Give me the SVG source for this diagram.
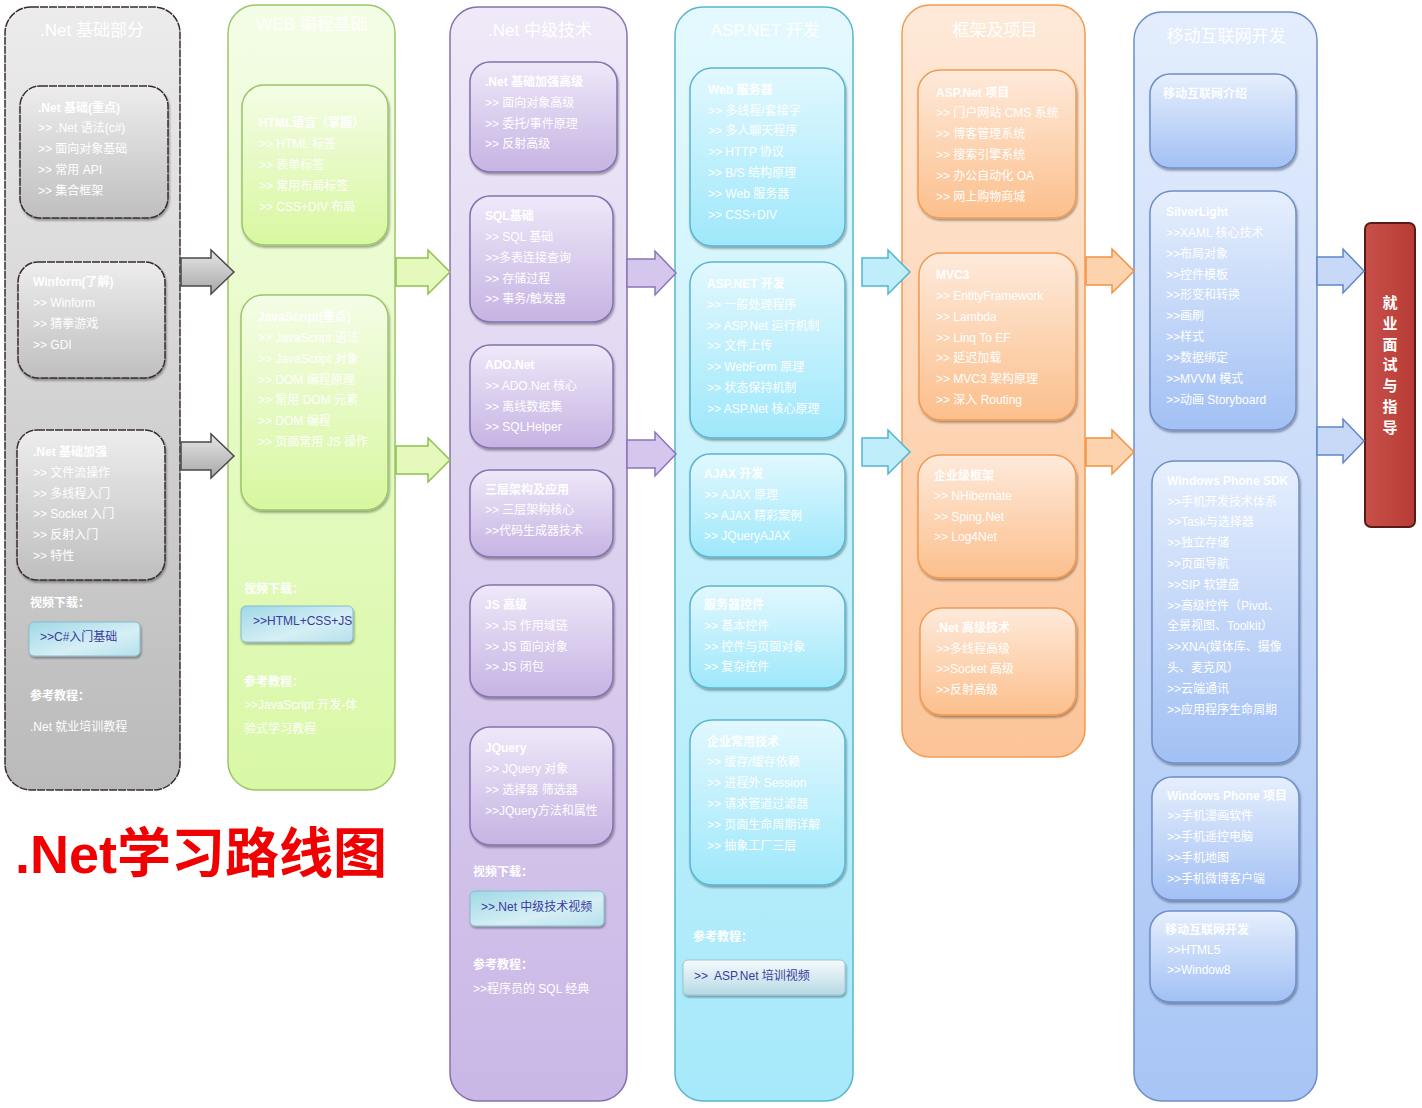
<svg xmlns="http://www.w3.org/2000/svg" width="1422" height="1108" viewBox="0 0 1422 1108">
<defs>
<linearGradient id="gGrayC" x1="0" y1="0" x2="0" y2="1"><stop offset="0" stop-color="#ececec"/><stop offset="1" stop-color="#bababa"/></linearGradient>
<linearGradient id="gGrayB" x1="0" y1="0" x2="0" y2="1"><stop offset="0" stop-color="#ededed"/><stop offset="1" stop-color="#bfbfbf"/></linearGradient>
<linearGradient id="gGreenC" x1="0" y1="0" x2="0" y2="1"><stop offset="0" stop-color="#f4fde6"/><stop offset="1" stop-color="#d9f8a6"/></linearGradient>
<linearGradient id="gGreenB" x1="0" y1="0" x2="0" y2="1"><stop offset="0" stop-color="#f4fde6"/><stop offset="1" stop-color="#d8f7a0"/></linearGradient>
<linearGradient id="gPurC" x1="0" y1="0" x2="0" y2="1"><stop offset="0" stop-color="#efe9f8"/><stop offset="1" stop-color="#c9b7e6"/></linearGradient>
<linearGradient id="gPurB" x1="0" y1="0" x2="0" y2="1"><stop offset="0" stop-color="#efe8f9"/><stop offset="1" stop-color="#c6b3e3"/></linearGradient>
<linearGradient id="gCyaC" x1="0" y1="0" x2="0" y2="1"><stop offset="0" stop-color="#e4f9fe"/><stop offset="1" stop-color="#a6e9fa"/></linearGradient>
<linearGradient id="gCyaB" x1="0" y1="0" x2="0" y2="1"><stop offset="0" stop-color="#e2f8fe"/><stop offset="1" stop-color="#9ee8fb"/></linearGradient>
<linearGradient id="gOraC" x1="0" y1="0" x2="0" y2="1"><stop offset="0" stop-color="#fee9d8"/><stop offset="1" stop-color="#fcc498"/></linearGradient>
<linearGradient id="gOraB" x1="0" y1="0" x2="0" y2="1"><stop offset="0" stop-color="#feeadb"/><stop offset="1" stop-color="#fcbf8c"/></linearGradient>
<linearGradient id="gBluC" x1="0" y1="0" x2="0" y2="1"><stop offset="0" stop-color="#e3edfd"/><stop offset="1" stop-color="#a8c5f5"/></linearGradient>
<linearGradient id="gBluB" x1="0" y1="0" x2="0" y2="1"><stop offset="0" stop-color="#e6effd"/><stop offset="1" stop-color="#a2c0f4"/></linearGradient>
<linearGradient id="gBtn" x1="0" y1="0" x2="1" y2="1"><stop offset="0" stop-color="#9fd8e6"/><stop offset="0.6" stop-color="#d6eff5"/><stop offset="1" stop-color="#b5e1ec"/></linearGradient>
<linearGradient id="gBtn2" x1="0" y1="0" x2="0" y2="1"><stop offset="0" stop-color="#f6fbfd"/><stop offset="1" stop-color="#b6d9e4"/></linearGradient>
<linearGradient id="gRed" x1="0" y1="0" x2="1" y2="0"><stop offset="0" stop-color="#c8504a"/><stop offset="1" stop-color="#b83c36"/></linearGradient>
<linearGradient id="gArrGray" x1="0" y1="0" x2="0" y2="1"><stop offset="0" stop-color="#e6e6e6"/><stop offset="1" stop-color="#a8a8a8"/></linearGradient>
<filter id="sh" x="-10%" y="-10%" width="120%" height="120%"><feDropShadow dx="1" dy="2" stdDeviation="1" flood-color="#000" flood-opacity="0.35"/></filter>
</defs>
<style>
text{font-family:"Liberation Sans","Noto Sans CJK SC",sans-serif;font-size:12px;fill:#fff}
.h{font-weight:bold}
.ct{font-size:17px;text-anchor:middle}
.bt{fill:#3b3b9c}
.box{filter:url(#sh)}
.gray .col{fill:url(#gGrayC);stroke:#3a2c2c;stroke-width:1.5;stroke-dasharray:8 1}
.gray .box{fill:url(#gGrayB);stroke:#3a2c2c;stroke-width:1.5;stroke-dasharray:8 1}
.green .col{fill:url(#gGreenC);stroke:#9cc66a;stroke-width:1.5}
.green .box{fill:url(#gGreenB);stroke:#9cc66a;stroke-width:1.5}
.pur .col{fill:url(#gPurC);stroke:#8572ad;stroke-width:1.5}
.pur .box{fill:url(#gPurB);stroke:#8572ad;stroke-width:1.5}
.cya .col{fill:url(#gCyaC);stroke:#5ab5cf;stroke-width:1.5}
.cya .box{fill:url(#gCyaB);stroke:#5ab5cf;stroke-width:1.5}
.ora .col{fill:url(#gOraC);stroke:#f39a50;stroke-width:1.5}
.ora .box{fill:url(#gOraB);stroke:#f39a50;stroke-width:1.5}
.blu .col{fill:url(#gBluC);stroke:#6e8ec8;stroke-width:1.5}
.blu .box{fill:url(#gBluB);stroke:#6e8ec8;stroke-width:1.5}
.btn{fill:url(#gBtn);stroke:#86bccb;stroke-width:1;filter:url(#sh)}
.btn2{fill:url(#gBtn2);stroke:#9cc4d0;stroke-width:1;filter:url(#sh)}
.arr{stroke-width:1.5;stroke-linejoin:miter}
</style>

<!-- Column 1 -->
<g id="col-net-basic" class="gray">
<rect class="col" x="5" y="7" width="175" height="783" rx="26"/>
<text class="ct" x="92" y="36">.Net 基础部分</text>
<g id="n-net-basic-key">
<rect class="box" x="20" y="86" width="148" height="132" rx="20"/>
<text class="h" x="38" y="112">.Net 基础(重点)</text>
<text x="38" y="132">&gt;&gt; .Net 语法(c#)</text>
<text x="38" y="153">&gt;&gt; 面向对象基础</text>
<text x="38" y="174">&gt;&gt; 常用 API</text>
<text x="38" y="195">&gt;&gt; 集合框架</text>
</g>
<g id="n-winform">
<rect class="box" x="18" y="262" width="147" height="116" rx="20"/>
<text class="h" x="33" y="286">Winform(了解)</text>
<text x="33" y="307">&gt;&gt; Winform</text>
<text x="33" y="328">&gt;&gt; 猜拳游戏</text>
<text x="33" y="349">&gt;&gt; GDI</text>
</g>
<g id="n-net-plus">
<rect class="box" x="17" y="430" width="148" height="150" rx="20"/>
<text class="h" x="33" y="456">.Net 基础加强</text>
<text x="33" y="477">&gt;&gt; 文件流操作</text>
<text x="33" y="498">&gt;&gt; 多线程入门</text>
<text x="33" y="518">&gt;&gt; Socket 入门</text>
<text x="33" y="539">&gt;&gt; 反射入门</text>
<text x="33" y="560">&gt;&gt; 特性</text>
</g>
<text class="h" x="30" y="607">视频下载：</text>
<g id="btn-csharp">
<rect class="btn" x="29" y="622" width="111" height="34" rx="5"/>
<text class="bt" x="40" y="641">&gt;&gt;C#入门基础</text>
</g>
<text class="h" x="30" y="700">参考教程：</text>
<text x="30" y="731">.Net 就业培训教程</text>
</g>

<!-- Column 2 -->
<g id="col-web" class="green">
<rect class="col" x="228" y="5" width="167" height="785" rx="28"/>
<text class="ct" x="312" y="30">WEB 编程基础</text>
<g id="n-html">
<rect class="box" x="242" y="85" width="146" height="160" rx="22"/>
<text class="h" x="259" y="127">HTML语言（掌握）</text>
<text x="259" y="148">&gt;&gt; HTML 标签</text>
<text x="259" y="169">&gt;&gt; 表单标签</text>
<text x="259" y="190">&gt;&gt; 常用布局标签</text>
<text x="259" y="211">&gt;&gt; CSS+DIV 布局</text>
</g>
<g id="n-js">
<rect class="box" x="241" y="295" width="147" height="215" rx="22"/>
<text class="h" x="258" y="321">JavaScript(重点)</text>
<text x="258" y="342">&gt;&gt; JavaScript 语法</text>
<text x="258" y="363">&gt;&gt; JavaScript 对象</text>
<text x="258" y="384">&gt;&gt; DOM 编程原理</text>
<text x="258" y="404">&gt;&gt; 常用 DOM 元素</text>
<text x="258" y="425">&gt;&gt; DOM 编程</text>
<text x="258" y="446">&gt;&gt; 页面常用 JS 操作</text>
</g>
<text class="h" x="244" y="593">视频下载：</text>
<g id="btn-html">
<rect class="btn" x="241" y="606" width="112" height="36" rx="5"/>
<text class="bt" x="253" y="625">&gt;&gt;HTML+CSS+JS</text>
</g>
<text class="h" x="244" y="686">参考教程：</text>
<text x="244" y="709">&gt;&gt;JavaScript 开发-体</text>
<text x="244" y="733">验式学习教程</text>
</g>

<!-- Column 3 -->
<g id="col-net-mid" class="pur">
<rect class="col" x="450" y="7" width="177" height="1094" rx="28"/>
<text class="ct" x="540" y="36">.Net 中级技术</text>
<g id="n-net-adv">
<rect class="box" x="470" y="62" width="147" height="110" rx="20"/>
<text class="h" x="485" y="86">.Net 基础加强高级</text>
<text x="485" y="107">&gt;&gt; 面向对象高级</text>
<text x="485" y="128">&gt;&gt; 委托/事件原理</text>
<text x="485" y="148">&gt;&gt; 反射高级</text>
</g>
<g id="n-sql">
<rect class="box" x="470" y="196" width="143" height="126" rx="20"/>
<text class="h" x="485" y="220">SQL基础</text>
<text x="485" y="241">&gt;&gt; SQL 基础</text>
<text x="485" y="262">&gt;&gt;多表连接查询</text>
<text x="485" y="283">&gt;&gt; 存储过程</text>
<text x="485" y="303">&gt;&gt; 事务/触发器</text>
</g>
<g id="n-ado">
<rect class="box" x="470" y="345" width="143" height="103" rx="20"/>
<text class="h" x="485" y="369">ADO.Net</text>
<text x="485" y="390">&gt;&gt; ADO.Net 核心</text>
<text x="485" y="411">&gt;&gt; 离线数据集</text>
<text x="485" y="431">&gt;&gt; SQLHelper</text>
</g>
<g id="n-3tier">
<rect class="box" x="470" y="470" width="143" height="87" rx="20"/>
<text class="h" x="485" y="494">三层架构及应用</text>
<text x="485" y="514">&gt;&gt; 三层架构核心</text>
<text x="485" y="535">&gt;&gt;代码生成器技术</text>
</g>
<g id="n-js-adv">
<rect class="box" x="470" y="585" width="143" height="112" rx="20"/>
<text class="h" x="485" y="609">JS 高级</text>
<text x="485" y="630">&gt;&gt; JS 作用域链</text>
<text x="485" y="651">&gt;&gt; JS 面向对象</text>
<text x="485" y="671">&gt;&gt; JS 闭包</text>
</g>
<g id="n-jquery">
<rect class="box" x="470" y="727" width="143" height="118" rx="20"/>
<text class="h" x="485" y="752">JQuery</text>
<text x="485" y="773">&gt;&gt; JQuery 对象</text>
<text x="485" y="794">&gt;&gt; 选择器 筛选器</text>
<text x="485" y="815">&gt;&gt;JQuery方法和属性</text>
</g>
<text class="h" x="473" y="876">视频下载：</text>
<g id="btn-net-mid">
<rect class="btn" x="470" y="891" width="134" height="35" rx="5"/>
<text class="bt" x="481" y="911">&gt;&gt;.Net 中级技术视频</text>
</g>
<text class="h" x="473" y="969">参考教程：</text>
<text x="473" y="993">&gt;&gt;程序员的 SQL 经典</text>
</g>

<!-- Column 4 -->
<g id="col-aspnet" class="cya">
<rect class="col" x="675" y="7" width="178" height="1094" rx="28"/>
<text class="ct" x="765" y="36">ASP.NET 开发</text>
<g id="n-webserver">
<rect class="box" x="690" y="68" width="155" height="178" rx="22"/>
<text class="h" x="708" y="94">Web 服务器</text>
<text x="708" y="115">&gt;&gt; 多线程/套接字</text>
<text x="708" y="135">&gt;&gt; 多人聊天程序</text>
<text x="708" y="156">&gt;&gt; HTTP 协议</text>
<text x="708" y="177">&gt;&gt; B/S 结构原理</text>
<text x="708" y="198">&gt;&gt; Web 服务器</text>
<text x="708" y="219">&gt;&gt; CSS+DIV</text>
</g>
<g id="n-aspnet-dev">
<rect class="box" x="690" y="262" width="155" height="176" rx="22"/>
<text class="h" x="707" y="288">ASP.NET 开发</text>
<text x="707" y="309">&gt;&gt; 一般处理程序</text>
<text x="707" y="330">&gt;&gt; ASP.Net 运行机制</text>
<text x="707" y="350">&gt;&gt; 文件上传</text>
<text x="707" y="371">&gt;&gt; WebForm 原理</text>
<text x="707" y="392">&gt;&gt; 状态保持机制</text>
<text x="707" y="413">&gt;&gt; ASP.Net 核心原理</text>
</g>
<g id="n-ajax">
<rect class="box" x="690" y="454" width="155" height="103" rx="20"/>
<text class="h" x="704" y="478">AJAX 开发</text>
<text x="704" y="499">&gt;&gt; AJAX 原理</text>
<text x="704" y="520">&gt;&gt; AJAX 精彩案例</text>
<text x="704" y="540">&gt;&gt; JQueryAJAX</text>
</g>
<g id="n-server-ctrl">
<rect class="box" x="690" y="586" width="155" height="102" rx="20"/>
<text class="h" x="704" y="609">服务器控件</text>
<text x="704" y="630">&gt;&gt; 基本控件</text>
<text x="704" y="651">&gt;&gt; 控件与页面对象</text>
<text x="704" y="671">&gt;&gt; 复杂控件</text>
</g>
<g id="n-enterprise-tech">
<rect class="box" x="690" y="720" width="155" height="165" rx="22"/>
<text class="h" x="707" y="746">企业常用技术</text>
<text x="707" y="766">&gt;&gt; 缓存/缓存依赖</text>
<text x="707" y="787">&gt;&gt; 进程外 Session</text>
<text x="707" y="808">&gt;&gt; 请求管道过滤器</text>
<text x="707" y="829">&gt;&gt; 页面生命周期详解</text>
<text x="707" y="850">&gt;&gt; 抽象工厂三层</text>
</g>
<text class="h" x="693" y="941">参考教程：</text>
<g id="btn-aspnet">
<rect class="btn2" x="683" y="960" width="162" height="35" rx="5"/>
<text class="bt" x="694" y="980" xml:space="preserve">&gt;&gt;  ASP.Net 培训视频</text>
</g>
</g>

<!-- Column 5 -->
<g id="col-framework" class="ora">
<rect class="col" x="902" y="5" width="183" height="752" rx="28"/>
<text class="ct" x="995" y="36">框架及项目</text>
<g id="n-asp-proj">
<rect class="box" x="918" y="70" width="158" height="148" rx="22"/>
<text class="h" x="936" y="97">ASP.Net 项目</text>
<text x="936" y="117">&gt;&gt; 门户网站 CMS 系统</text>
<text x="936" y="138">&gt;&gt; 博客管理系统</text>
<text x="936" y="159">&gt;&gt; 搜索引擎系统</text>
<text x="936" y="180">&gt;&gt; 办公自动化 OA</text>
<text x="936" y="201">&gt;&gt; 网上购物商城</text>
</g>
<g id="n-mvc3">
<rect class="box" x="919" y="253" width="157" height="167" rx="22"/>
<text class="h" x="936" y="279">MVC3</text>
<text x="936" y="300">&gt;&gt; EntityFramework</text>
<text x="936" y="321">&gt;&gt; Lambda</text>
<text x="936" y="342">&gt;&gt; Linq To EF</text>
<text x="936" y="362">&gt;&gt; 延迟加载</text>
<text x="936" y="383">&gt;&gt; MVC3 架构原理</text>
<text x="936" y="404">&gt;&gt; 深入 Routing</text>
</g>
<g id="n-ent-framework">
<rect class="box" x="918" y="455" width="158" height="123" rx="22"/>
<text class="h" x="934" y="480">企业级框架</text>
<text x="934" y="500">&gt;&gt; NHibernate</text>
<text x="934" y="521">&gt;&gt; Sping.Net</text>
<text x="934" y="541">&gt;&gt; Log4Net</text>
</g>
<g id="n-net-high">
<rect class="box" x="920" y="608" width="156" height="107" rx="22"/>
<text class="h" x="936" y="632">.Net 高级技术</text>
<text x="936" y="653">&gt;&gt;多线程高级</text>
<text x="936" y="673">&gt;&gt;Socket 高级</text>
<text x="936" y="694">&gt;&gt;反射高级</text>
</g>
</g>

<!-- Column 6 -->
<g id="col-mobile" class="blu">
<rect class="col" x="1134" y="12" width="183" height="1089" rx="28"/>
<text class="ct" x="1226" y="42">移动互联网开发</text>
<g id="n-mobile-intro">
<rect class="box" x="1150" y="74" width="146" height="94" rx="20"/>
<text class="h" x="1163" y="98">移动互联网介绍</text>
</g>
<g id="n-silverlight">
<rect class="box" x="1150" y="191" width="146" height="239" rx="22"/>
<text class="h" x="1166" y="216">SilverLight</text>
<text x="1166" y="237">&gt;&gt;XAML 核心技术</text>
<text x="1166" y="258">&gt;&gt;布局对象</text>
<text x="1166" y="279">&gt;&gt;控件模板</text>
<text x="1166" y="299">&gt;&gt;形变和转换</text>
<text x="1166" y="320">&gt;&gt;画刷</text>
<text x="1166" y="341">&gt;&gt;样式</text>
<text x="1166" y="362">&gt;&gt;数据绑定</text>
<text x="1166" y="383">&gt;&gt;MVVM 模式</text>
<text x="1166" y="404">&gt;&gt;动画 Storyboard</text>
</g>
<g id="n-wp-sdk">
<rect class="box" x="1152" y="461" width="147" height="302" rx="22"/>
<text class="h" x="1167" y="485">Windows Phone SDK</text>
<text x="1167" y="506">&gt;&gt;手机开发技术体系</text>
<text x="1167" y="526">&gt;&gt;Task与选择器</text>
<text x="1167" y="547">&gt;&gt;独立存储</text>
<text x="1167" y="568">&gt;&gt;页面导航</text>
<text x="1167" y="589">&gt;&gt;SIP 软键盘</text>
<text x="1167" y="610">&gt;&gt;高级控件（Pivot、</text>
<text x="1167" y="630">全景视图、Toolkit）</text>
<text x="1167" y="651">&gt;&gt;XNA(媒体库、摄像</text>
<text x="1167" y="672">头、麦克风）</text>
<text x="1167" y="693">&gt;&gt;云端通讯</text>
<text x="1167" y="714">&gt;&gt;应用程序生命周期</text>
</g>
<g id="n-wp-proj">
<rect class="box" x="1152" y="777" width="147" height="123" rx="20"/>
<text class="h" x="1167" y="800">Windows Phone 项目</text>
<text x="1167" y="820">&gt;&gt;手机漫画软件</text>
<text x="1167" y="841">&gt;&gt;手机遥控电脑</text>
<text x="1167" y="862">&gt;&gt;手机地图</text>
<text x="1167" y="883">&gt;&gt;手机微博客户端</text>
</g>
<g id="n-mobile-dev">
<rect class="box" x="1150" y="911" width="146" height="91" rx="20"/>
<text class="h" x="1165" y="934">移动互联网开发</text>
<text x="1167" y="954">&gt;&gt;HTML5</text>
<text x="1167" y="974">&gt;&gt;Window8</text>
</g>
</g>

<!-- Final node -->
<g id="n-job">
<rect x="1365" y="223" width="50" height="304" rx="6" fill="url(#gRed)" stroke="#5a1a1a" stroke-width="2"/>
<g style="font-weight:bold;text-anchor:middle">
<text x="1390" y="308" style="font-size:15px">就</text>
<text x="1390" y="329" style="font-size:15px">业</text>
<text x="1390" y="350" style="font-size:15px">面</text>
<text x="1390" y="370" style="font-size:15px">试</text>
<text x="1390" y="391" style="font-size:15px">与</text>
<text x="1390" y="412" style="font-size:15px">指</text>
<text x="1390" y="433" style="font-size:15px">导</text>
</g>
</g>

<!-- Connectors -->
<g id="connectors">
<path class="arr" fill="url(#gArrGray)" stroke="#4a4a4a" d="M181,258 L211,258 L211,250 L234,272 L211,294 L211,286 L181,286 Z"/>
<path class="arr" fill="url(#gArrGray)" stroke="#4a4a4a" d="M181,442 L211,442 L211,434 L234,456 L211,478 L211,470 L181,470 Z"/>
<path class="arr" fill="#e6f9bd" stroke="#8fc050" d="M396,258 L428,258 L428,250 L450,272 L428,294 L428,286 L396,286 Z"/>
<path class="arr" fill="#e6f9bd" stroke="#8fc050" d="M396,446 L428,446 L428,438 L450,460 L428,482 L428,474 L396,474 Z"/>
<path class="arr" fill="#d4c6ec" stroke="#8c74b8" d="M627,259 L655,259 L655,251 L676,273 L655,295 L655,287 L627,287 Z"/>
<path class="arr" fill="#d4c6ec" stroke="#8c74b8" d="M627,440 L655,440 L655,432 L676,454 L655,476 L655,468 L627,468 Z"/>
<path class="arr" fill="#bfedfa" stroke="#4fb6d2" d="M862,258 L888,258 L888,250 L910,272 L888,294 L888,286 L862,286 Z"/>
<path class="arr" fill="#bfedfa" stroke="#4fb6d2" d="M862,438 L888,438 L888,430 L910,452 L888,474 L888,466 L862,466 Z"/>
<path class="arr" fill="#fdd3ad" stroke="#f29244" d="M1086,257 L1112,257 L1112,249 L1134,271 L1112,293 L1112,285 L1086,285 Z"/>
<path class="arr" fill="#fdd3ad" stroke="#f29244" d="M1086,438 L1112,438 L1112,430 L1134,452 L1112,474 L1112,466 L1086,466 Z"/>
<path class="arr" fill="#c8d9f8" stroke="#5f86c8" d="M1317,257 L1343,257 L1343,249 L1364,271 L1343,293 L1343,285 L1317,285 Z"/>
<path class="arr" fill="#c8d9f8" stroke="#5f86c8" d="M1317,427 L1343,427 L1343,419 L1364,441 L1343,463 L1343,455 L1317,455 Z"/>
</g>

<!-- Main title -->
<text id="main-title" x="15" y="873" style="font-size:54px;font-weight:bold;fill:#f00000;font-family:'Liberation Sans','Noto Sans CJK SC',sans-serif">.Net学习路线图</text>
</svg>
